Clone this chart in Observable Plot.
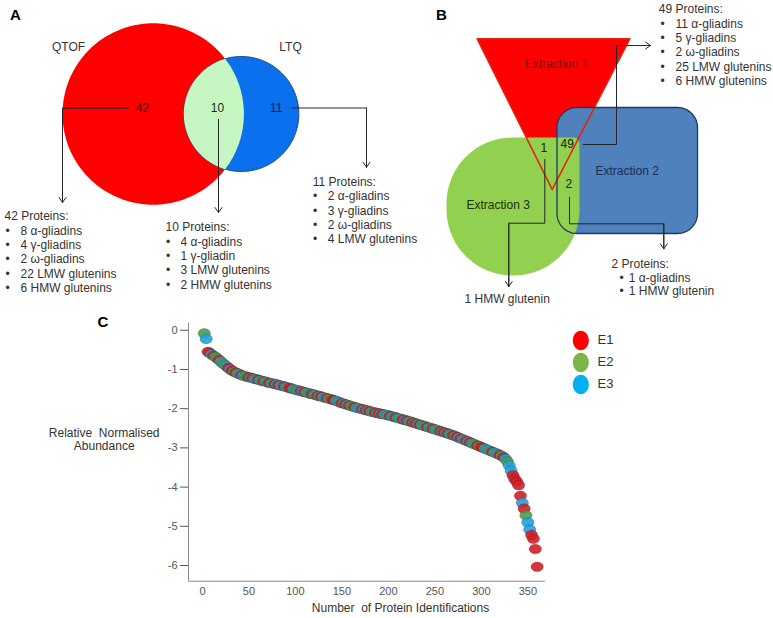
<!DOCTYPE html>
<html><head><meta charset="utf-8">
<script src="https://cdn.jsdelivr.net/npm/d3@7"></script>
<script src="https://cdn.jsdelivr.net/npm/@observablehq/plot@0.6"></script>
<style>
html,body{margin:0;padding:0;background:#fff;}
#wrap{position:relative;width:773px;height:618px;overflow:hidden;background:#fff;}
#wrap svg{position:absolute;left:0;}
</style></head><body><div id="wrap"></div>
<script>
// ---------------- DATA ----------------
const vennALabels = ["QTOF", "LTQ"];
const vennACounts = [42, 10, 11];
const qtofOnly = ["8 α-gliadins", "4 γ-gliadins", "2 ω-gliadins", "22 LMW glutenins", "6 HMW glutenins"];
const sharedAB = ["4 α-gliadins", "1 γ-gliadin", "3 LMW glutenins", "2 HMW glutenins"];
const ltqOnly = ["2 α-gliadins", "3 γ-gliadins", "2 ω-gliadins", "4 LMW glutenins"];

const vennBLabels = ["Extraction 1", "Extraction 2", "Extraction 3"];
const vennBCounts = [1, 49, 2];
const ext12 = ["11 α-gliadins", "5 γ-gliadins", "2 ω-gliadins", "25 LMW glutenins", "6 HMW glutenins"];
const ext23 = ["1 α-gliadins", "1 HMW glutenin"];
const ext13 = "1 HMW glutenin";

// Relative normalised abundance, ranks 2,4,...,360
const abundance = [
  -0.08,-0.22,-0.55,-0.58,-0.62,-0.65,-0.68,-0.72,-0.76,-0.80,
  -0.85,-0.88,-0.92,-0.96,-1.00,-1.03,-1.06,-1.08,-1.10,-1.12,
  -1.14,-1.16,-1.17,-1.19,-1.20,-1.21,-1.22,-1.24,-1.25,-1.26,
  -1.28,-1.29,-1.30,-1.31,-1.33,-1.34,-1.35,-1.36,-1.37,-1.38,
  -1.40,-1.41,-1.42,-1.43,-1.45,-1.46,-1.47,-1.49,-1.50,-1.52,
  -1.53,-1.54,-1.55,-1.57,-1.58,-1.59,-1.60,-1.62,-1.63,-1.64,
  -1.65,-1.67,-1.68,-1.69,-1.71,-1.72,-1.73,-1.75,-1.76,-1.77,
  -1.79,-1.80,-1.82,-1.84,-1.86,-1.87,-1.89,-1.90,-1.92,-1.93,
  -1.95,-1.96,-1.98,-1.99,-2.00,-2.01,-2.03,-2.04,-2.05,-2.06,
  -2.08,-2.09,-2.10,-2.11,-2.12,-2.13,-2.14,-2.15,-2.16,-2.17,
  -2.18,-2.20,-2.21,-2.22,-2.24,-2.25,-2.26,-2.28,-2.29,-2.30,
  -2.32,-2.33,-2.35,-2.36,-2.38,-2.39,-2.41,-2.42,-2.44,-2.45,
  -2.47,-2.48,-2.50,-2.51,-2.53,-2.54,-2.56,-2.57,-2.59,-2.60,
  -2.62,-2.63,-2.65,-2.67,-2.68,-2.70,-2.72,-2.74,-2.76,-2.78,
  -2.80,-2.82,-2.84,-2.86,-2.88,-2.90,-2.92,-2.94,-2.96,-2.98,
  -3.00,-3.02,-3.04,-3.06,-3.08,-3.10,-3.12,-3.14,-3.16,-3.18,
  -3.20,-3.24,-3.28,-3.35,-3.45,-3.58,-3.70,-3.80,-3.86,-3.95,
  -4.22,-4.40,-4.55,-4.72,-4.90,-5.08,-5.22,-5.32,-5.58,-6.03
];
// extraction of each point (1 = E1, 2 = E2, 3 = E3)
const extractionCodes = [
  "2311312213","2231312123","1322131231","3213212313","1231321132",
  "2313123212","3121331221","1323121312","2132313121","3213121323",
  "1231232131","2312131232","1321323121","3123121313","2131232121",
  "1323213231","2132331111","1312331111"
].join("");
const legendSeries = ["E1", "E2", "E3"];
const xTicks = [0, 50, 100, 150, 200, 250, 300, 350];
const yTicks = [0, -1, -2, -3, -4, -5, -6];

// ---------------- LAYOUT / STYLE ----------------
const W = 773, H = 618;
const FONT = "'Liberation Sans', Arial, sans-serif";
const TXT = "#333333", LINE = "#262626";
const G = {
  qtof: {cx: 152.7, cy: 113.5, r: 90.7},
  ltq: {cx: 240.8, cy: 113.5, r: 57.5},
  tri: [[476.7, 38.3], [629.3, 38.3], [551.7, 189]],
  rect: {x0: 556.5, y0: 107, x1: 697, y1: 233, r: [20, 20, 20, 20]},
  green: {x0: 446, y0: 137, x1: 579, y1: 275, r: [66, 6, 66, 66]}
};

function circlePts(c, n = 180) {
  return d3.range(n).map(i => {
    const a = 2 * Math.PI * i / n;
    return {x: c.cx + c.r * Math.cos(a), y: c.cy + c.r * Math.sin(a)};
  });
}
function lensPts(a, b, n = 80) {
  const dx = b.cx - a.cx, dy = b.cy - a.cy, d = Math.hypot(dx, dy);
  const base = Math.atan2(dy, dx);
  const ta = Math.acos((d * d + a.r * a.r - b.r * b.r) / (2 * d * a.r));
  const tb = Math.acos((d * d + b.r * b.r - a.r * a.r) / (2 * d * b.r));
  const pts = [];
  for (let i = 0; i <= n; i++) {
    const g = base - ta + 2 * ta * i / n;
    pts.push({x: a.cx + a.r * Math.cos(g), y: a.cy + a.r * Math.sin(g)});
  }
  for (let i = 0; i <= n; i++) {
    const g = base + Math.PI - tb + 2 * tb * i / n;
    pts.push({x: b.cx + b.r * Math.cos(g), y: b.cy + b.r * Math.sin(g)});
  }
  return pts;
}
function roundRectPts(s, n = 24) {
  const [rTL, rTR, rBR, rBL] = s.r;
  const corners = [
    [s.x0 + rTL, s.y0 + rTL, rTL, Math.PI],
    [s.x1 - rTR, s.y0 + rTR, rTR, 1.5 * Math.PI],
    [s.x1 - rBR, s.y1 - rBR, rBR, 0],
    [s.x0 + rBL, s.y1 - rBL, rBL, 0.5 * Math.PI]
  ];
  const pts = [];
  for (const [cx, cy, r, a0] of corners) {
    for (let i = 0; i <= n; i++) {
      const a = a0 + (Math.PI / 2) * i / n;
      pts.push({x: cx + r * Math.cos(a), y: cy + r * Math.sin(a)});
    }
  }
  return pts;
}
const triPts = G.tri.map(([x, y]) => ({x, y}));

function block(x, y, head, items, bx, tx, lh = 14.3) {
  const rows = [{x, y, t: head}];
  items.forEach((it, i) => {
    rows.push({x: bx, y: y + lh * (i + 1), t: "•"});
    rows.push({x: tx, y: y + lh * (i + 1), t: it});
  });
  return rows;
}
const textRows = [
  ...block(4, 216, `${vennACounts[0]} Proteins:`, qtofOnly, 5, 20),
  ...block(165, 227, `${vennACounts[1]} Proteins:`, sharedAB, 165.5, 180),
  ...block(312.3, 181.7, `${vennACounts[2]} Proteins:`, ltqOnly, 312.5, 327.3),
  ...block(658.3, 9, `${vennBCounts[1]} Proteins:`, ext12, 660, 675),
  ...block(611, 263.3, `${vennBCounts[2]} Proteins:`, ext23, 619, 628.3, 13.9)
];

const connectors = [
  [[128, 107.7], [62, 107.7], [62, 202]],
  [[218, 119], [218, 212]],
  [[291.7, 107.5], [366, 107.5], [366, 166.7]],
  [[544.3, 159], [544.3, 222.7], [508.3, 222.7], [508.3, 286]],
  [[582.7, 144], [616, 144], [616, 45], [650, 45]],
  [[569, 196.7], [569, 223.3], [663.3, 223.3], [663.3, 248.3]]
];
const connPts = connectors.flatMap((c, id) => c.map(([x, y]) => ({id, x, y})));
const arrowSegs = connectors.map(c => {
  const [a, b] = c.slice(-2);
  return {x1: a[0], y1: a[1], x2: b[0], y2: b[1]};
});

function ellipseSymbol(rx, ry) {
  const k = 0.5523;
  return {draw(ctx) {
    ctx.moveTo(rx, 0);
    ctx.bezierCurveTo(rx, k * ry, k * rx, ry, 0, ry);
    ctx.bezierCurveTo(-k * rx, ry, -rx, k * ry, -rx, 0);
    ctx.bezierCurveTo(-rx, -k * ry, -k * rx, -ry, 0, -ry);
    ctx.bezierCurveTo(k * rx, -ry, rx, -k * ry, rx, 0);
    ctx.closePath();
  }};
}
const legendColors = ["#ff0000", "#7ab648", "#00b0f0"];
const dotColors = ["#d01f28", "#4c9f4c", "#25a0dc"];

// ---------------- DIAGRAM (panels A, B + panel C labels) ----------------
const diagram = Plot.plot({
  width: W, height: H, margin: 0,
  x: {domain: [0, W], range: [0, W], axis: null},
  y: {domain: [0, H], range: [0, H], axis: null},
  style: {fontFamily: FONT, background: "white"},
  marks: [
    // Panel A
    Plot.line(circlePts(G.qtof), {x: "x", y: "y", curve: "linear-closed", fill: "#ff0000", stroke: "none"}),
    Plot.line(circlePts(G.ltq), {x: "x", y: "y", curve: "linear-closed", fill: "#0b70ee", stroke: "#1f4e79", strokeWidth: 1}),
    Plot.line(lensPts(G.qtof, G.ltq), {x: "x", y: "y", curve: "linear-closed", fill: "#c6f6c2", stroke: "none"}),
    // Panel B
    Plot.line(triPts, {x: "x", y: "y", curve: "linear-closed", fill: "#ff0000", stroke: "none"}),
    Plot.line(roundRectPts(G.rect), {x: "x", y: "y", curve: "linear-closed", fill: "#4f81bd", stroke: "none"}),
    Plot.line(roundRectPts(G.green), {x: "x", y: "y", curve: "linear-closed", fill: "#92d050", stroke: "none"}),
    Plot.line(triPts, {x: "x", y: "y", curve: "linear-closed", fill: "none", stroke: "#e8200c", strokeWidth: 1.6}),
    Plot.line(roundRectPts(G.rect), {x: "x", y: "y", curve: "linear-closed", fill: "none", stroke: "#1f3a60", strokeWidth: 1.3}),
    // connectors
    Plot.line(connPts, {x: "x", y: "y", z: "id", stroke: LINE, strokeWidth: 1}),
    Plot.arrow(arrowSegs, {x1: "x1", y1: "y1", x2: "x2", y2: "y2", stroke: LINE, strokeWidth: 1, headLength: 9, headAngle: 70}),
    // panel letters
    Plot.text([{x: 15, y: 15, t: "A"}, {x: 441, y: 15, t: "B"}, {x: 102.3, y: 321.7, t: "C"}],
      {x: "x", y: "y", text: "t", fontSize: 15, fontWeight: "bold", fill: "#000"}),
    // Venn A labels
    Plot.text([{x: 68, y: 47, t: vennALabels[0]}, {x: 290, y: 47, t: vennALabels[1]}],
      {x: "x", y: "y", text: "t", fontSize: 12, fill: TXT}),
    Plot.text([{x: 142, y: 108, t: String(vennACounts[0]), c: "#3a0808"},
               {x: 217, y: 108, t: String(vennACounts[1]), c: "#1a2a1a"},
               {x: 275.7, y: 108, t: String(vennACounts[2]), c: "#0a1a3a"}],
      {x: "x", y: "y", text: "t", fontSize: 12, fill: "c"}),
    // Venn B labels
    Plot.text([{x: 556, y: 63.3, t: vennBLabels[0], c: "#7a1010"},
               {x: 626.7, y: 170.7, t: vennBLabels[1], c: "#1c2f4f"},
               {x: 497.7, y: 204.3, t: vennBLabels[2], c: "#1e2e12"}],
      {x: "x", y: "y", text: "t", fontSize: 12, fill: "c"}),
    Plot.text([{x: 543.3, y: 147.3, t: String(vennBCounts[0])},
               {x: 566.7, y: 144, t: String(vennBCounts[1])},
               {x: 568.3, y: 184, t: String(vennBCounts[2])}],
      {x: "x", y: "y", text: "t", fontSize: 12, fill: "#1a1a1a"}),
    // protein lists
    Plot.text(textRows, {x: "x", y: "y", text: "t", textAnchor: "start", fontSize: 12, fill: TXT}),
    Plot.text([{x: 506.7, y: 299, t: ext13}], {x: "x", y: "y", text: "t", fontSize: 12, fill: TXT}),
    // panel C labels
    Plot.text([{x: 103.7, y: 432.3, t: "Relative  Normalised"}, {x: 103.7, y: 446, t: "Abundance"}],
      {x: "x", y: "y", text: "t", fontSize: 12, fill: TXT}),
    Plot.text([{x: 400, y: 608, t: "Number  of Protein Identifications"}],
      {x: "x", y: "y", text: "t", fontSize: 12, fill: TXT}),
    // legend
    Plot.dot(legendSeries.map((s, i) => ({s, x: 580.3, y: 340 + 22 * i, c: legendColors[i]})),
      {x: "x", y: "y", fill: "c", stroke: "none", symbol: ellipseSymbol(8, 9.7)}),
    Plot.text(legendSeries.map((s, i) => ({s, x: 597, y: 339 + 22 * i})),
      {x: "x", y: "y", text: "s", textAnchor: "start", fontSize: 13, fill: TXT})
  ]
});
diagram.style.top = "0px";

// ---------------- SCATTER (panel C) ----------------
const points = abundance.map((v, i) => ({
  rank: (i + 1) * 2,
  value: v,
  series: "E" + extractionCodes[i]
}));
const X0 = -15, Y0 = -6.4;
const scatter = Plot.plot({
  width: W, height: 308,
  marginLeft: 188, marginRight: 228, marginTop: 12.7, marginBottom: 37.3,
  style: {fontFamily: FONT, fontSize: "11px", color: "#555", background: "transparent"},
  x: {domain: [X0, 369], ticks: xTicks, tickSize: 0, tickPadding: 6, label: null, tickFormat: d => String(d)},
  y: {domain: [Y0, 0.18], ticks: yTicks, tickSize: 8, tickPadding: 3, label: null, tickFormat: d => String(d)},
  color: {domain: legendSeries, range: dotColors},
  marks: [
    Plot.ruleX([X0], {stroke: "#8a8a8a", strokeWidth: 1}),
    Plot.ruleY([Y0], {stroke: "#8a8a8a", strokeWidth: 1}),
    Plot.dot(points, {x: "rank", y: "value", fill: "series", fillOpacity: 0.9,
      stroke: "#000", strokeOpacity: 0.25, strokeWidth: 0.6, symbol: ellipseSymbol(6.2, 4.8)})
  ]
});
scatter.style.top = "310px";

const wrap = document.getElementById("wrap");
wrap.appendChild(diagram);
wrap.appendChild(scatter);
</script>
</body></html>
